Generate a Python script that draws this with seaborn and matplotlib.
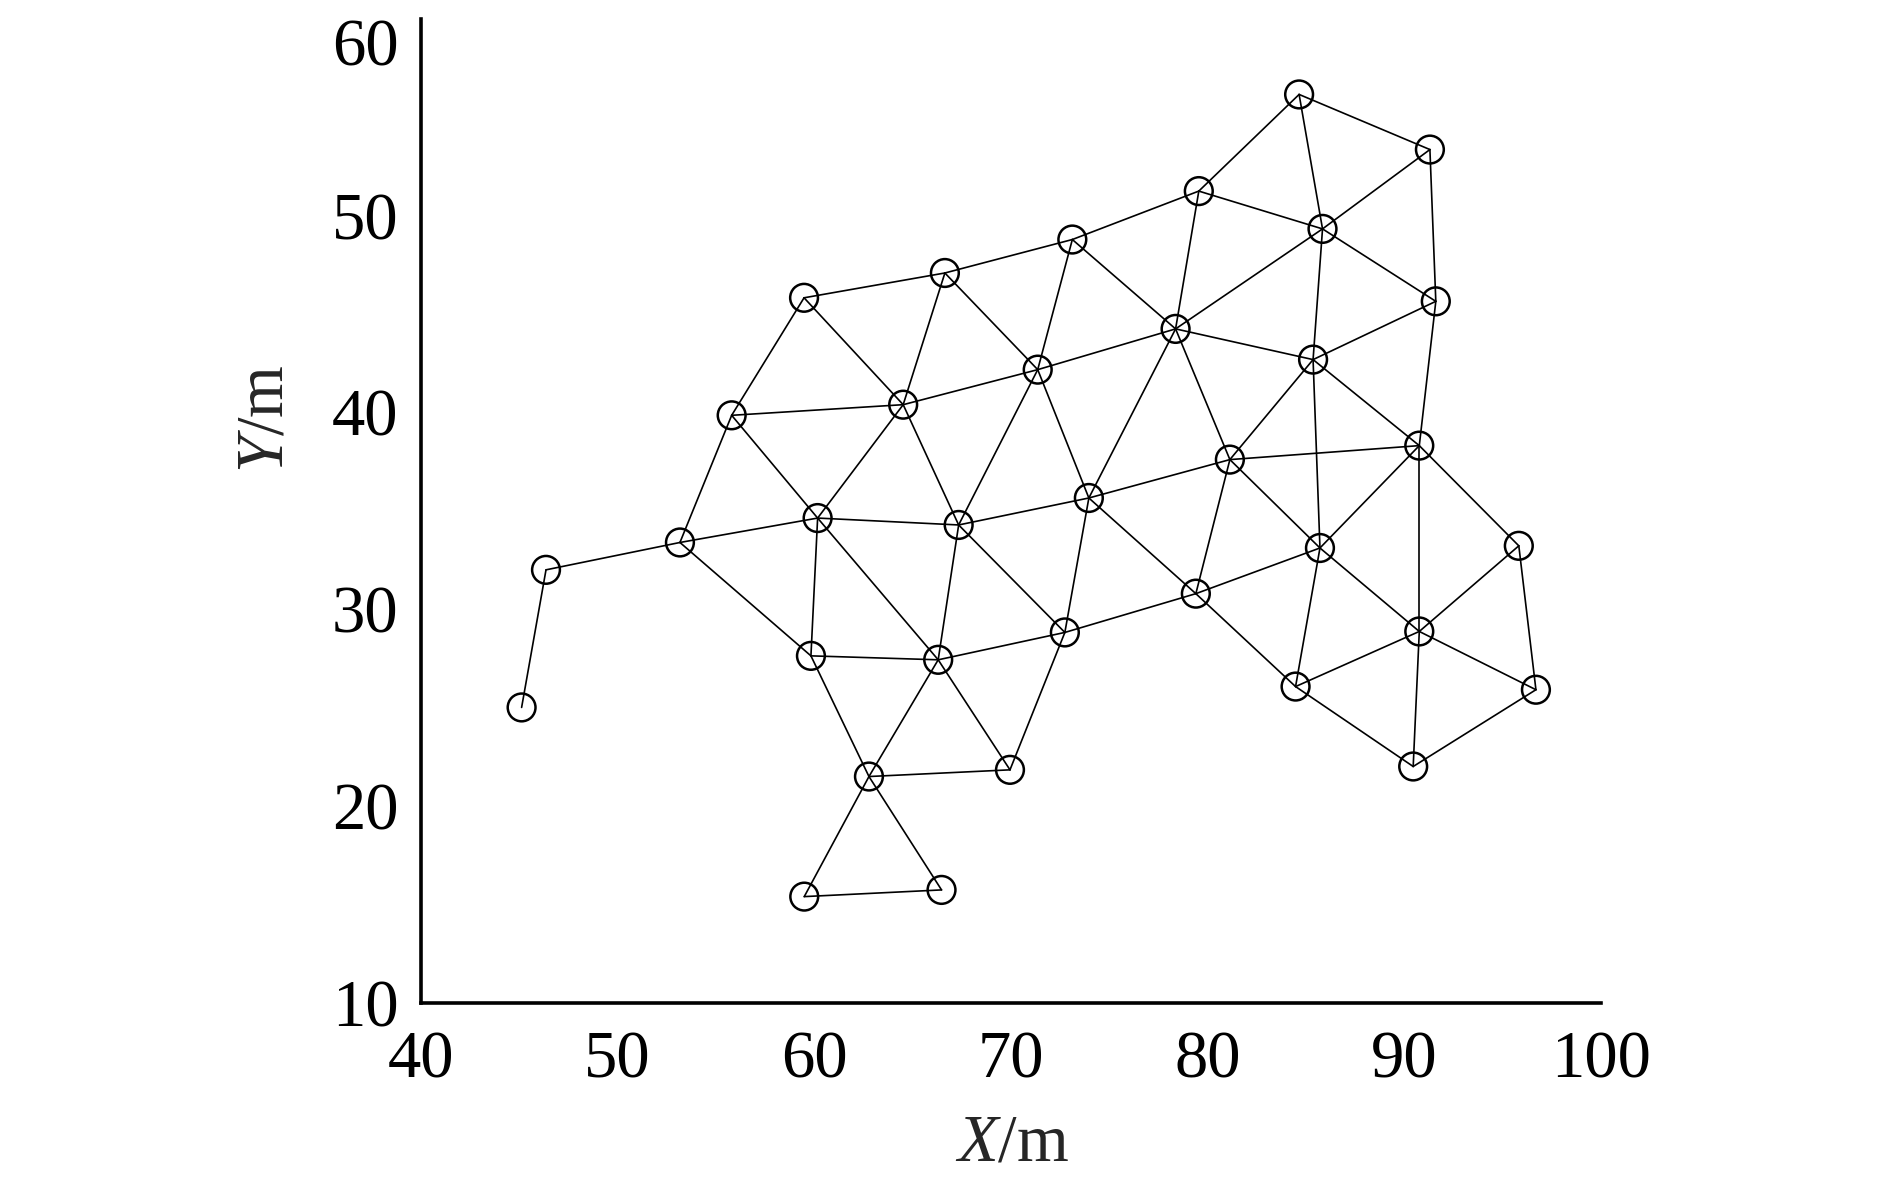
import numpy as np
import pandas as pd
import matplotlib
matplotlib.use('Agg')
import matplotlib.pyplot as plt
import seaborn as sns

# node coordinates (m), ids 1..35
node_id = list(range(1, 36))
node_x = [45.13, 46.37, 53.18, 55.81, 59.49, 66.65, 73.13, 79.56, 84.66, 91.31,
          85.85, 91.61, 78.38, 71.37, 64.53, 85.37, 90.77, 81.14, 73.97, 67.35,
          60.18, 85.72, 95.83, 79.41, 72.75, 66.31, 59.84, 90.77, 84.48, 96.70,
          90.46, 62.79, 69.96, 59.50, 66.48]
node_y = [25.01, 32.00, 33.39, 39.85, 45.82, 47.08, 48.78, 51.24, 56.15, 53.35,
          49.32, 45.64, 44.24, 42.17, 40.39, 42.68, 38.31, 37.60, 35.65, 34.28,
          34.63, 33.11, 33.22, 30.79, 28.82, 27.43, 27.63, 28.87, 26.07, 25.91,
          22.01, 21.50, 21.84, 15.40, 15.74]

# mesh links between node ids
links = [(1, 2), (2, 3), (3, 4), (3, 21), (3, 27), (4, 5), (4, 15), (4, 21),
         (5, 6), (5, 15), (6, 7), (6, 15), (6, 14), (7, 8), (7, 13), (7, 14),
         (8, 9), (8, 11), (8, 13), (9, 10), (9, 11), (10, 11), (10, 12),
         (11, 12), (11, 13), (11, 16), (12, 16), (12, 17), (13, 14), (13, 16),
         (13, 18), (13, 19), (14, 15), (14, 19), (14, 20), (15, 20), (15, 21),
         (16, 17), (16, 18), (16, 22), (17, 18), (17, 22), (17, 23), (17, 28),
         (18, 19), (18, 22), (18, 24), (19, 20), (19, 24), (19, 25), (20, 21),
         (20, 25), (20, 26), (21, 26), (21, 27), (22, 24), (22, 28), (22, 29),
         (23, 28), (23, 30), (24, 25), (24, 29), (25, 26), (25, 33), (26, 27),
         (26, 32), (26, 33), (27, 32), (28, 29), (28, 30), (28, 31), (29, 31),
         (30, 31), (32, 33), (32, 34), (32, 35), (34, 35)]

nodes = pd.DataFrame({'id': node_id, 'x': node_x, 'y': node_y}).set_index('id')

rows = []
for k, (a, b) in enumerate(links):
    rows.append({'edge': k, 'x': nodes.loc[a, 'x'], 'y': nodes.loc[a, 'y']})
    rows.append({'edge': k, 'x': nodes.loc[b, 'x'], 'y': nodes.loc[b, 'y']})
seg = pd.DataFrame(rows)

sns.set_style('white')
plt.rcParams['font.family'] = ['Liberation Serif', 'DejaVu Serif']
plt.rcParams['mathtext.fontset'] = 'custom'
plt.rcParams['mathtext.rm'] = 'Liberation Serif'
plt.rcParams['mathtext.it'] = 'Liberation Serif:italic'

fig = plt.figure(figsize=(18.9, 11.81), dpi=100)
ax = fig.add_axes([0.2226, 0.1508, 0.6244, 0.8334])

sns.lineplot(data=seg, x='x', y='y', units='edge', estimator=None, sort=False,
             color='black', linewidth=1.2, ax=ax, legend=False)
sns.scatterplot(data=nodes, x='x', y='y', marker='o', s=400,
                facecolors='none', edgecolors='black', linewidth=1.8,
                ax=ax, legend=False, zorder=3)

ax.set_xlim(40, 100)
ax.set_ylim(10, 60)
ax.set_xticks(np.arange(40, 101, 10))
ax.set_yticks(np.arange(10, 61, 10))
sns.despine(ax=ax)
for side in ['left', 'bottom']:
    ax.spines[side].set_linewidth(2.6)
    ax.spines[side].set_color('black')
ax.tick_params(direction='in', length=9, width=2.0, labelsize=48, colors='black')
ax.tick_params(axis='x', pad=20)
ax.tick_params(axis='y', pad=16)

# top label sits below the axis end, as in the original figure
ax.get_yticklabels()[-1].set_va('top')

ax.set_xlabel('$X$/m', fontsize=48)
ax.set_ylabel('$Y$/m', fontsize=48)
ax.xaxis.label.set_va('center')
ax.yaxis.label.set_va('center')
ax.xaxis.set_label_coords(0.501, -0.143)
ax.yaxis.set_label_coords(-0.131, 0.593)

fig.savefig('out.png', dpi=100)
